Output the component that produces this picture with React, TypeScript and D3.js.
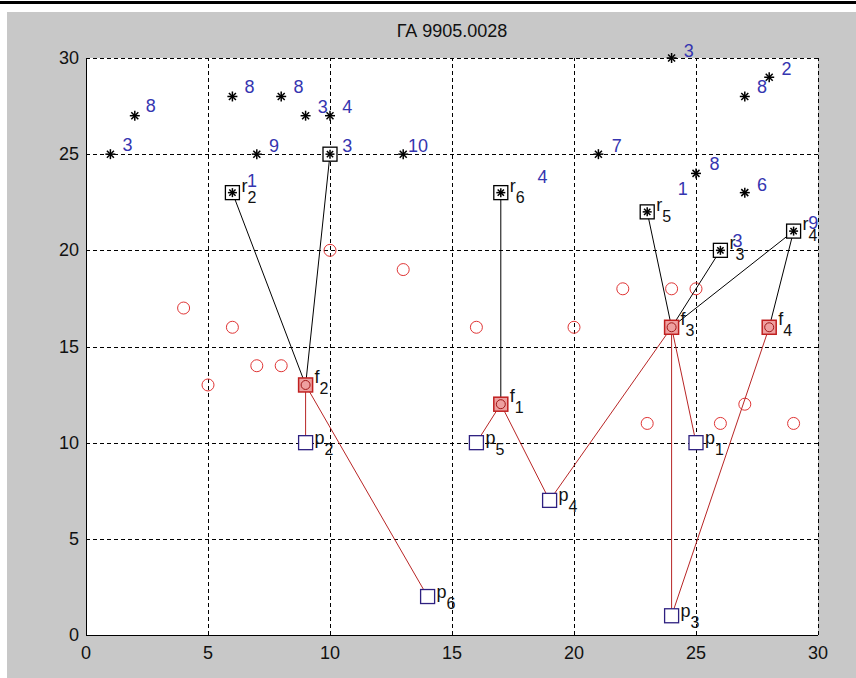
import React from 'react';
import { scaleLinear } from 'd3';

// plain black stars
const starX = [1, 2, 6, 8, 9, 10, 7, 13, 21, 24, 28, 27, 25, 27];
const starY = [25, 27, 28, 28, 27, 27, 25, 25, 25, 30, 29, 28, 24, 23];

// blue number labels (left / baseline, data units)
const numText = ['3', '8', '8', '8', '3', '4', '9', '3', '1', '10', '4', '7', '3', '2', '8', '8', '1', '6', '3', '9'];
const numX = [1.5, 2.45, 6.5, 8.5, 9.5, 10.5, 7.5, 10.5, 6.6, 13.2, 18.5, 21.55, 24.5, 28.5, 27.5, 25.55, 24.25, 27.5, 26.5, 29.6];
const numY = [25.15, 27.2, 28.2, 28.2, 27.15, 27.15, 25.1, 25.1, 23.3, 25.1, 23.5, 25.1, 30.05, 29.1, 28.2, 24.2, 22.9, 23.1, 20.15, 21.1];

// red circles
const circX = [4, 5, 6, 7, 8, 10, 13, 16, 20, 22, 24, 25, 23, 26, 27, 29, 9, 17, 24, 28];
const circY = [17, 13, 16, 14, 14, 20, 19, 16, 16, 18, 18, 18, 11, 11, 12, 11, 13, 12, 16, 16];

// r points (boxed stars)
const rX = [10, 6, 17, 23, 26, 29];
const rY = [25, 23, 23, 22, 20, 21];
const rSub = ['', '2', '6', '5', '3', '4'];

// f points (red boxes)
const fX = [17, 9, 24, 28];
const fY = [12, 13, 16, 16];
const fSub = ['1', '2', '3', '4'];

// p points (blue boxes)
const pX = [25, 9, 24, 19, 16, 14];
const pY = [10, 10, 1, 7, 10, 2];
const pSub = ['1', '2', '3', '4', '5', '6'];

// links r -> f (black) and f -> p (red), by index
const rfR = [0, 1, 2, 3, 4, 5, 5];
const rfF = [1, 1, 0, 2, 2, 2, 3];
const fpF = [1, 1, 0, 0, 2, 2, 2, 3];
const fpP = [1, 5, 4, 3, 3, 2, 0, 2];

const ticks = [0, 5, 10, 15, 20, 25, 30];
const title = 'ГА 9905.0028';

const W = 856, H = 678;
const FONT = '"Liberation Sans", Arial, sans-serif';
const BLUE = '#3535b0';
const RED = '#e03535';
const LINK_RED = '#b82525';
const PURPLE = '#2e2080';

function Star({ cx, cy, s = 5 }: { cx: number; cy: number; s?: number }) {
  const d = s * 0.7;
  return (
    <g stroke="#000" strokeWidth={1.5}>
      <line x1={cx - s} x2={cx + s} y1={cy} y2={cy} />
      <line x1={cx} x2={cx} y1={cy - s} y2={cy + s} />
      <line x1={cx - d} x2={cx + d} y1={cy - d} y2={cy + d} />
      <line x1={cx - d} x2={cx + d} y1={cy + d} y2={cy - d} />
    </g>
  );
}

function Label({ x, y, main, sub, dy = 0 }: { x: number; y: number; main: string; sub: string; dy?: number }) {
  if (!sub) return null;
  return (
    <text x={x + 9} y={y + dy} fontFamily={FONT} fontSize={18} fill="#111">
      {main}
      <tspan dy={11} fontSize={16}>{sub}</tspan>
    </text>
  );
}

export default function App() {
  const x = scaleLinear().domain([0, 30]).range([86, 818]);
  const y = scaleLinear().domain([0, 30]).range([635, 58]);
  const [x0, x1] = x.range();
  const [y0, y1] = y.range();

  return (
    <svg width={W} height={H} style={{ position: 'absolute', left: 0, top: 0 }}>
      <rect width={W} height={H} fill="#fff" />
      <rect x={0} y={1} width={W} height={3} fill="#000" />
      <rect x={7} y={12} width={W - 7} height={H - 12} fill="#c8c8c8" />
      <rect x={x0} y={y1} width={x1 - x0} height={y0 - y1} fill="#fff" />

      {/* grid */}
      <g stroke="#000" strokeWidth={1} strokeDasharray="4,3" shapeRendering="crispEdges">
        {ticks.map(t => (
          <line key={'gx' + t} x1={Math.round(x(t)) + 0.5} x2={Math.round(x(t)) + 0.5} y1={y0} y2={y1} />
        ))}
        {ticks.map(t => (
          <line key={'gy' + t} x1={x0} x2={x1} y1={Math.round(y(t)) + 0.5} y2={Math.round(y(t)) + 0.5} />
        ))}
      </g>
      <g stroke="#000" strokeWidth={1.2} shapeRendering="crispEdges">
        <line x1={x0 + 0.5} x2={x0 + 0.5} y1={y0} y2={y1} />
        <line x1={x0} x2={x1} y1={y0 + 0.5} y2={y0 + 0.5} />
      </g>

      {/* tick labels */}
      <g fontFamily={FONT} fontSize={18} fill="#111">
        {ticks.map(t => (
          <text key={'tx' + t} x={x(t)} y={y0 + 24} textAnchor="middle">{t}</text>
        ))}
        {ticks.map(t => (
          <text key={'ty' + t} x={x0 - 7} y={y(t) + 6} textAnchor="end">{t}</text>
        ))}
      </g>
      <text x={(x0 + x1) / 2} y={37} textAnchor="middle" fontFamily={FONT} fontSize={18} fill="#111">{title}</text>

      {/* circles */}
      <g fill="none" stroke={RED} strokeWidth={1}>
        {circX.map((cx, i) => (
          <circle key={'c' + i} cx={x(cx)} cy={y(circY[i])} r={6} />
        ))}
      </g>

      {/* f -> p links */}
      <g stroke={LINK_RED} strokeWidth={1}>
        {fpF.map((fi, i) => (
          <line key={'fp' + i} x1={x(fX[fi])} y1={y(fY[fi])} x2={x(pX[fpP[i]])} y2={y(pY[fpP[i]])} />
        ))}
      </g>
      {/* r -> f links */}
      <g stroke="#000" strokeWidth={1}>
        {rfR.map((ri, i) => (
          <line key={'rf' + i} x1={x(rX[ri])} y1={y(rY[ri])} x2={x(fX[rfF[i]])} y2={y(fY[rfF[i]])} />
        ))}
      </g>

      {/* stars */}
      {starX.map((sx, i) => (
        <Star key={'s' + i} cx={x(sx)} cy={y(starY[i])} />
      ))}

      {/* r boxes */}
      {rX.map((rx, i) => (
        <g key={'r' + i}>
          <rect x={x(rx) - 7} y={y(rY[i]) - 7} width={14} height={14} fill="#fff" stroke="#000" strokeWidth={1.3} />
          <Star cx={x(rx)} cy={y(rY[i])} s={4.5} />
          <Label x={x(rx)} y={y(rY[i])} main="r" sub={rSub[i]} dy={-1} />
        </g>
      ))}

      {/* f boxes */}
      {fX.map((fx, i) => (
        <g key={'f' + i}>
          <rect x={x(fx) - 7} y={y(fY[i]) - 7} width={14} height={14} fill="#eea0a0" stroke="#c02020" strokeWidth={1.5} />
          <circle cx={x(fx)} cy={y(fY[i])} r={4.5} fill="none" stroke="#a01818" />
          <Label x={x(fx)} y={y(fY[i])} main="f" sub={fSub[i]} dy={-2} />
        </g>
      ))}

      {/* p boxes */}
      {pX.map((px, i) => (
        <g key={'p' + i}>
          <rect x={x(px) - 7} y={y(pY[i]) - 7} width={14} height={14} fill="#fff" stroke={PURPLE} strokeWidth={1.3} />
          <Label x={x(px)} y={y(pY[i])} main="p" sub={pSub[i]} dy={1} />
        </g>
      ))}

      {/* blue numbers */}
      <g fontFamily={FONT} fontSize={18} fill={BLUE}>
        {numText.map((t, i) => (
          <text key={'n' + i} x={x(numX[i])} y={y(numY[i])}>{t}</text>
        ))}
      </g>
    </svg>
  );
}
